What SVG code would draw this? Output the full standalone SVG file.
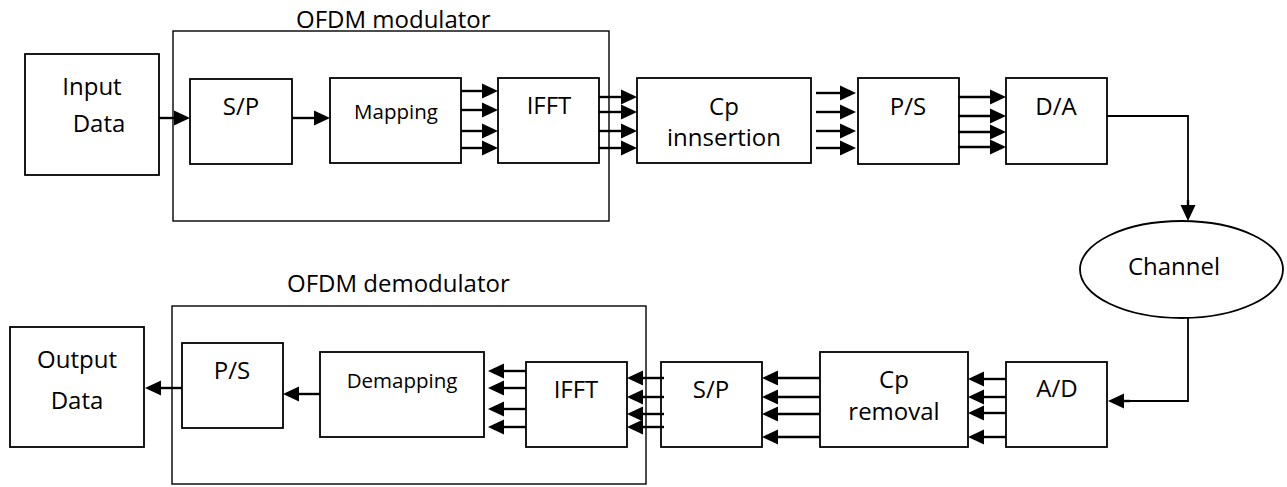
<svg xmlns="http://www.w3.org/2000/svg" width="1287" height="487" viewBox="0 0 1287 487">
<style>
  .bg { fill: #ffffff; }
  .outer { fill: none; stroke: #000; stroke-width: 1.4; }
  .box { fill: #ffffff; stroke: #000; stroke-width: 1.8; }
  .lbl { font-family: "Open Sans", "Noto Sans", "Liberation Sans", sans-serif; font-size: 24px; fill: #000; text-anchor: middle; }
  .sm { font-size: 20.5px; }
  .title { font-family: "Open Sans", "Noto Sans", "Liberation Sans", sans-serif; font-size: 24px; fill: #000; }
  .wire { fill: none; stroke: #000; stroke-width: 2.4; marker-end: url(#ah); }
  .thin { fill: none; stroke: #000; stroke-width: 1.8; }
</style>
<defs>
  <marker id="ah" markerUnits="userSpaceOnUse" markerWidth="16" markerHeight="15" refX="8" refY="7.5" orient="auto" overflow="visible">
    <path d="M0,0 L16,7.5 L0,15 z" fill="#000"/>
  </marker>
</defs>
<rect class="bg" x="0" y="0" width="1287" height="487"/>

<g id="ofdm-modulator">
  <rect class="outer" x="173" y="31" width="436" height="190"/>
  <text class="title" x="296" y="28">OFDM modulator</text>
</g>
<g id="ofdm-demodulator">
  <rect class="outer" x="172" y="306" width="474" height="178"/>
  <text class="title" x="287" y="292">OFDM demodulator</text>
</g>

<g id="input-data">
  <rect class="box" x="25" y="54" width="134" height="121"/>
  <text class="lbl" x="92" y="95">Input</text>
  <text class="lbl" x="99" y="132">Data</text>
</g>
<g id="sp-tx">
  <rect class="box" x="190" y="79" width="102" height="85"/>
  <text class="lbl" x="241" y="115">S/P</text>
</g>
<g id="mapping">
  <rect class="box" x="330" y="78" width="131" height="85"/>
  <text class="lbl sm" x="396" y="119">Mapping</text>
</g>
<g id="ifft-tx">
  <rect class="box" x="498" y="78" width="101" height="85"/>
  <text class="lbl" x="549" y="114">IFFT</text>
</g>
<g id="cp-insertion">
  <rect class="box" x="637" y="78" width="174" height="85"/>
  <text class="lbl" x="724" y="115">Cp</text>
  <text class="lbl" x="724" y="146">innsertion</text>
</g>
<g id="ps-tx">
  <rect class="box" x="858" y="78" width="101" height="86"/>
  <text class="lbl" x="908" y="115">P/S</text>
</g>
<g id="da">
  <rect class="box" x="1006" y="78" width="101" height="86"/>
  <text class="lbl" x="1056" y="115">D/A</text>
</g>
<g id="channel">
  <ellipse class="box" cx="1181.5" cy="269.5" rx="101.5" ry="48.5"/>
  <text class="lbl" x="1174" y="275">Channel</text>
</g>
<g id="ad">
  <rect class="box" x="1006" y="362" width="101" height="85"/>
  <text class="lbl" x="1057" y="397">A/D</text>
</g>
<g id="cp-removal">
  <rect class="box" x="820" y="352" width="148" height="95"/>
  <text class="lbl" x="894" y="388">Cp</text>
  <text class="lbl" x="894" y="420">removal</text>
</g>
<g id="sp-rx">
  <rect class="box" x="661" y="362" width="101" height="85"/>
  <text class="lbl" x="711" y="398">S/P</text>
</g>
<g id="ifft-rx">
  <rect class="box" x="526" y="362" width="101" height="85"/>
  <text class="lbl" x="576" y="398">IFFT</text>
</g>
<g id="demapping">
  <rect class="box" x="320" y="352" width="164" height="85"/>
  <text class="lbl sm" x="402" y="388">Demapping</text>
</g>
<g id="ps-rx">
  <rect class="box" x="182" y="343" width="101" height="85"/>
  <text class="lbl" x="232" y="379">P/S</text>
</g>
<g id="output-data">
  <rect class="box" x="10" y="327" width="134" height="120"/>
  <text class="lbl" x="77" y="368">Output</text>
  <text class="lbl" x="77" y="409">Data</text>
</g>

<g id="connectors">
  <!-- transmitter -->
  <path class="wire" d="M159,118 H182"/>
  <path class="wire" d="M292,118 H322"/>
  <path class="wire" d="M461,91 H490"/>
  <path class="wire" d="M461,110 H490"/>
  <path class="wire" d="M461,131 H490"/>
  <path class="wire" d="M461,148 H490"/>
  <path class="wire" d="M599,97 H629"/>
  <path class="wire" d="M599,112 H629"/>
  <path class="wire" d="M599,131 H629"/>
  <path class="wire" d="M599,148 H629"/>
  <path class="wire" d="M816,93 H848"/>
  <path class="wire" d="M816,112 H848"/>
  <path class="wire" d="M816,131 H848"/>
  <path class="wire" d="M816,148 H848"/>
  <path class="wire" d="M958,97 H998"/>
  <path class="wire" d="M958,116 H998"/>
  <path class="wire" d="M958,132 H998"/>
  <path class="wire" d="M958,147 H998"/>
  <path class="thin" d="M1107,116 H1188 V205"/>
  <path class="wire" d="M1188,200 V213"/>
  <!-- receiver -->
  <path class="thin" d="M1188,318 V401 H1125"/>
  <path class="wire" d="M1130,401 H1116"/>
  <path class="wire" d="M1006,379 H976"/>
  <path class="wire" d="M1006,397 H976"/>
  <path class="wire" d="M1006,413 H976"/>
  <path class="wire" d="M1006,437 H976"/>
  <path class="wire" d="M820,378 H770"/>
  <path class="wire" d="M820,397 H770"/>
  <path class="wire" d="M820,414 H770"/>
  <path class="wire" d="M820,437 H770"/>
  <path class="wire" d="M664,378 H635"/>
  <path class="wire" d="M664,397 H635"/>
  <path class="wire" d="M664,414 H635"/>
  <path class="wire" d="M664,427 H635"/>
  <path class="wire" d="M526,371 H496"/>
  <path class="wire" d="M526,388 H496"/>
  <path class="wire" d="M526,409 H496"/>
  <path class="wire" d="M526,427 H496"/>
  <path class="wire" d="M320,394 H291"/>
  <path class="wire" d="M182,388 H153"/>
</g>
</svg>
